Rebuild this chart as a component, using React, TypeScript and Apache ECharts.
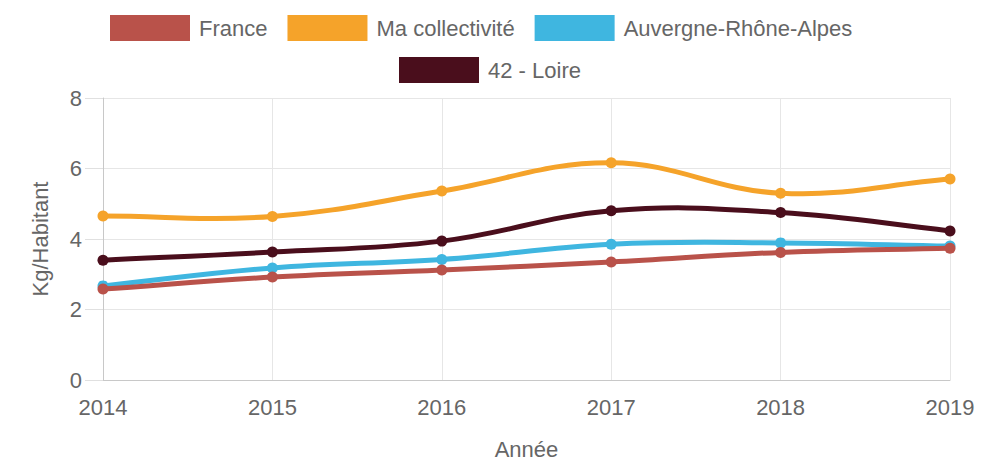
import React, { useEffect, useRef } from "react";
import * as echarts from "echarts";

const years = ["2014", "2015", "2016", "2017", "2018", "2019"];
const france = [2.58, 2.92, 3.12, 3.35, 3.62, 3.74];
const maCollectivite = [4.65, 4.64, 5.36, 6.16, 5.3, 5.7];
const auvergne = [2.67, 3.18, 3.42, 3.85, 3.89, 3.8];
const loire = [3.4, 3.63, 3.94, 4.8, 4.75, 4.23];
const yTicks = [0, 2, 4, 6, 8];

const names = ["France", "Ma collectivité", "Auvergne-Rhône-Alpes", "42 - Loire"];
const colors = ["#b9524a", "#f5a32a", "#3fb6e0", "#4a0e1c"];
const values = [france, maCollectivite, auvergne, loire];

const FONT = "'Liberation Sans', Arial, sans-serif";
const TXT = "#666666";
const TENSION = 0.4;

function makeRenderItem(vals: number[], color: string) {
  return (params: any, api: any) => {
    const i = params.dataIndex;
    const n = vals.length;
    const pt = (k: number) => api.coord([k, vals[k]]);
    const cps = (k: number) => {
      const cur = pt(k);
      const prev = k > 0 ? pt(k - 1) : cur;
      const next = k < n - 1 ? pt(k + 1) : cur;
      const d01 = Math.hypot(cur[0] - prev[0], cur[1] - prev[1]);
      const d12 = Math.hypot(next[0] - cur[0], next[1] - cur[1]);
      const tot = d01 + d12 || 1;
      const fa = (TENSION * d01) / tot;
      const fb = (TENSION * d12) / tot;
      return {
        prev: [cur[0] - fa * (next[0] - prev[0]), cur[1] - fa * (next[1] - prev[1])],
        next: [cur[0] + fb * (next[0] - prev[0]), cur[1] + fb * (next[1] - prev[1])],
      };
    };
    const children: any[] = [];
    const p0 = pt(i);
    if (i < n - 1) {
      const p1 = pt(i + 1);
      const c0 = cps(i).next;
      const c1 = cps(i + 1).prev;
      children.push({
        type: "bezierCurve",
        shape: {
          x1: p0[0], y1: p0[1], x2: p1[0], y2: p1[1],
          cpx1: c0[0], cpy1: c0[1], cpx2: c1[0], cpy2: c1[1],
        },
        style: { stroke: color, lineWidth: 5, fill: "none", lineCap: "round" },
      });
    }
    children.push({
      type: "circle",
      shape: { cx: p0[0], cy: p0[1], r: 5.5 },
      style: { fill: color },
    });
    return { type: "group", children };
  };
}

export default function App() {
  const ref = useRef<HTMLDivElement>(null);
  useEffect(() => {
    document.body.style.margin = "0";
    if (!ref.current) return;
    const chart = echarts.init(ref.current, undefined, { renderer: "svg" });
    const series = names
      .map((n, i) => ({
        name: n,
        type: "custom",
        data: values[i].map((v, k) => [k, v]),
        encode: { x: 0, y: 1 },
        itemStyle: { color: colors[i] },
        renderItem: makeRenderItem(values[i], colors[i]),
        clip: false,
      }))
      .reverse();
    const legendCommon = {
      icon: "rect",
      itemWidth: 80,
      itemHeight: 26,
      itemGap: 20,
      textStyle: { color: TXT, fontSize: 22, fontFamily: FONT, padding: [0, 0, 0, 4] },
      selectedMode: false,
    };
    chart.setOption({
      animation: false,
      backgroundColor: "#ffffff",
      textStyle: { fontFamily: FONT },
      legend: [
        { ...legendCommon, data: names.slice(0, 3), left: 105, top: 10 },
        { ...legendCommon, data: names.slice(3), left: 394, top: 52 },
      ],
      grid: { left: 103, right: 52, top: 98, bottom: 85, containLabel: false },
      xAxis: {
        type: "category",
        data: years,
        boundaryGap: false,
        name: "Année",
        nameLocation: "middle",
        nameGap: 58,
        nameTextStyle: { color: TXT, fontSize: 22, fontFamily: FONT },
        axisLine: { lineStyle: { color: "#c8c8c8", width: 1 } },
        axisTick: { show: false },
        axisLabel: { color: TXT, fontSize: 22, fontFamily: FONT, margin: 16 },
        splitLine: { show: true, lineStyle: { color: "#e6e6e6", width: 1 } },
      },
      yAxis: {
        type: "value",
        min: yTicks[0],
        max: yTicks[yTicks.length - 1],
        interval: 2,
        name: "Kg/Habitant",
        nameLocation: "middle",
        nameGap: 52,
        nameRotate: 90,
        nameTextStyle: { color: TXT, fontSize: 22, fontFamily: FONT },
        axisLine: { show: true, lineStyle: { color: "#c8c8c8", width: 1 } },
        axisTick: { show: true, length: 18, lineStyle: { color: "#e0e0e0" } },
        axisLabel: { color: TXT, fontSize: 22, fontFamily: FONT, margin: 21 },
        splitLine: { show: true, lineStyle: { color: "#e6e6e6", width: 1 } },
      },
      series,
    });
    return () => chart.dispose();
  }, []);
  return <div ref={ref} style={{ width: 1002, height: 465 }} />;
}
